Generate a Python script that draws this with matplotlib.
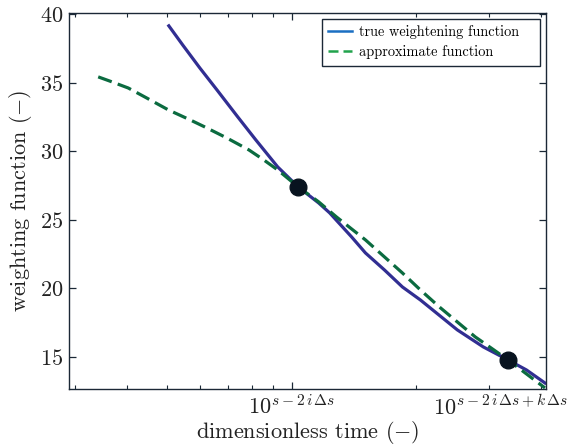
import matplotlib
matplotlib.use("Agg")
import matplotlib.pyplot as plt
from matplotlib.ticker import LogLocator, NullFormatter, FixedLocator, FixedFormatter
from matplotlib.lines import Line2D

plt.rcParams["font.family"] = "cmr10"
plt.rcParams["mathtext.fontset"] = "cm"
plt.rcParams["axes.formatter.use_mathtext"] = True

# true weighting function (dimensionless time in units of 10^{s-2iΔs})
true_t = [0.505, 0.546, 0.600, 0.660, 0.741, 0.819, 0.925, 1.037, 1.162, 1.235,
          1.395, 1.507, 1.675, 1.851, 2.046, 2.512, 2.902, 3.33, 3.69, 4.09]
true_w = [39.13, 37.72, 36.06, 34.46, 32.49, 30.82, 28.85, 27.39, 26.22, 25.5,
          23.75, 22.58, 21.34, 20.1, 19.15, 16.97, 15.73, 14.78, 14.05, 13.1]

# approximate function
approx_t = [0.341, 0.364, 0.403, 0.446, 0.504, 0.569, 0.617, 0.697, 0.788, 0.856,
            0.925, 1.037, 1.162, 1.283, 1.507, 1.675, 1.851, 2.046, 2.274, 2.512,
            2.775, 3.075, 3.33, 4.09]
approx_w = [35.41, 35.1, 34.6, 33.88, 33.0, 32.27, 31.76, 30.96, 30.09, 29.36,
            28.63, 27.39, 26.3, 25.2, 23.53, 22.29, 21.12, 19.88, 18.64, 17.55,
            16.46, 15.52, 14.78, 12.74]

# collocation points where both functions agree
point_t = [1.037, 3.33]
point_w = [27.39, 14.78]

x_tick_pos = [1.0, 3.2]
x_tick_labels = [r"$10^{s-2\,i\,\Delta s}$", r"$10^{s-2\,i\,\Delta s+k\,\Delta s}$"]
y_ticks = [15, 20, 25, 30, 35, 40]

edge = "#1b2836"
fig = plt.figure(figsize=(5.74, 4.46), dpi=100)
ax = fig.add_axes([0.120, 0.128, 0.831, 0.843])

ax.plot(true_t, true_w, color="#312e92", lw=2.3, solid_joinstyle="round", zorder=2)
ax.plot(approx_t, approx_w, color="#0b6b40", lw=2.3, dashes=(4.5, 2.0), zorder=3)
ax.plot(point_t, point_w, "o", color="#08131f", ms=12, zorder=4)

ax.set_xscale("log")
ax.set_xlim(0.2897, 4.11)
ax.set_ylim(12.67, 40.07)

ax.xaxis.set_major_locator(FixedLocator(x_tick_pos))
ax.xaxis.set_major_formatter(FixedFormatter(x_tick_labels))
ax.xaxis.set_minor_locator(LogLocator(base=10, subs=range(2, 10)))
ax.xaxis.set_minor_formatter(NullFormatter())
ax.set_yticks(y_ticks)

ax.tick_params(which="both", direction="in", top=True, right=True, color=edge,
               labelsize=16, labelcolor="#222222")
ax.tick_params(which="major", length=5, width=0.9, pad=4)
ax.tick_params(which="minor", length=3, width=0.8)
xt = ax.xaxis.get_major_ticks()[1]
xt.tick1line.set_visible(False)
xt.tick2line.set_visible(False)

for s in ax.spines.values():
    s.set_color(edge)
    s.set_linewidth(1.0)

ax.set_xlabel(r"dimensionless time $(-)$", fontsize=16, color="#222222", labelpad=0)
ax.set_ylabel(r"weighting function $(-)$", fontsize=16, color="#222222", labelpad=4)

handles = [Line2D([], [], color="#1a6fc2", lw=1.8),
           Line2D([], [], color="#21a34c", lw=1.8, dashes=(4, 2))]
leg = ax.legend(handles, ["true weightening function", "approximate function"],
                loc="upper left", bbox_to_anchor=(0.530, 0.867, 0.457, 0.117),
                mode="expand", borderaxespad=0,
                fontsize=10.3, fancybox=False, framealpha=1, edgecolor=edge,
                handlelength=1.7, handletextpad=0.45, labelspacing=0.4, borderpad=0.45)
leg.get_frame().set_linewidth(1.0)

fig.savefig("out.png", dpi=100)
